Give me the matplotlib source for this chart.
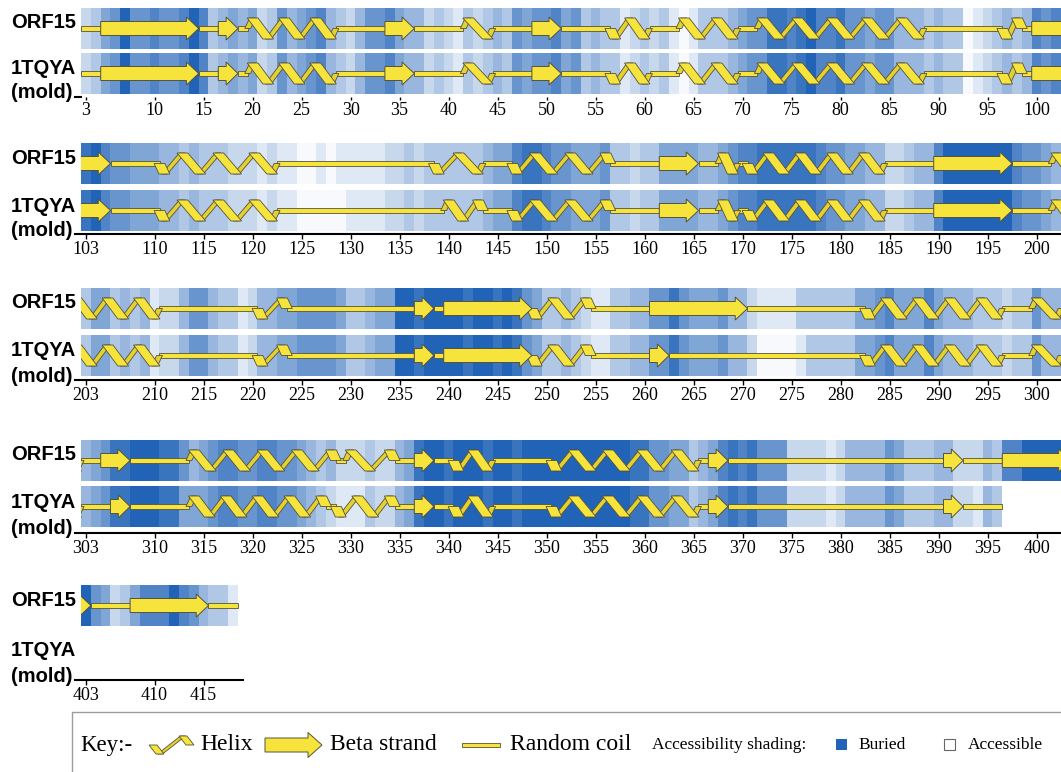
import matplotlib
matplotlib.use("Agg")
import matplotlib.pyplot as plt
from matplotlib.patches import Polygon, Rectangle
import numpy as np

# ------------------------------------------------------------------ data
row_starts = [3, 103, 203, 303, 403]
last_residue = 418
tick_values = [
    [3, 10, 15, 20, 25, 30, 35, 40, 45, 50, 55, 60, 65, 70, 75, 80, 85, 90, 95, 100],
    [103, 110, 115, 120, 125, 130, 135, 140, 145, 150, 155, 160, 165, 170, 175, 180, 185, 190, 195, 200],
    [203, 210, 215, 220, 225, 230, 235, 240, 245, 250, 255, 260, 265, 270, 275, 280, 285, 290, 295, 300],
    [303, 310, 315, 320, 325, 330, 335, 340, 345, 350, 355, 360, 365, 370, 375, 380, 385, 390, 395, 400],
    [403, 410, 415],
]
track_names = ["ORF15", "1TQYA", "(mold)"]

# secondary structure: (type, first residue, last residue); H helix, E strand, C coil
ss_orf15 = [
    ("C", 3, 4), ("E", 5, 14), ("C", 15, 16), ("E", 17, 18), ("C", 19, 19), ("H", 20, 28),
    ("C", 29, 33), ("E", 34, 36), ("C", 37, 41), ("H", 42, 44), ("C", 45, 48), ("E", 49, 51),
    ("C", 52, 56), ("H", 57, 60), ("C", 61, 63), ("H", 64, 69), ("C", 70, 71), ("H", 72, 88),
    ("C", 89, 96), ("H", 97, 98), ("C", 99, 99), ("E", 100, 105), ("C", 106, 110), ("H", 111, 122),
    ("C", 123, 138), ("H", 139, 143), ("C", 144, 146), ("H", 147, 156), ("C", 157, 161),
    ("E", 162, 165), ("C", 166, 167), ("H", 168, 169), ("C", 170, 170), ("H", 171, 184),
    ("C", 185, 189), ("E", 190, 197), ("C", 198, 201), ("H", 202, 210), ("C", 211, 220),
    ("H", 221, 223), ("C", 224, 236), ("E", 237, 238), ("C", 239, 239), ("E", 240, 248),
    ("H", 249, 254), ("C", 255, 260), ("E", 261, 270), ("C", 271, 282), ("H", 283, 296),
    ("C", 297, 299), ("H", 300, 302), ("C", 303, 304), ("E", 305, 307), ("C", 308, 313),
    ("H", 314, 328), ("C", 329, 329), ("H", 330, 334), ("C", 335, 336), ("E", 337, 338),
    ("C", 339, 340), ("H", 341, 344), ("C", 345, 350), ("H", 351, 365), ("C", 366, 366),
    ("E", 367, 368), ("C", 369, 390), ("E", 391, 392), ("C", 393, 396), ("E", 397, 403),
    ("C", 404, 407), ("E", 408, 415), ("C", 416, 418),
]
ss_1tqya = [
    ("C", 3, 4), ("E", 5, 14), ("C", 15, 16), ("E", 17, 18), ("C", 19, 19), ("H", 20, 28),
    ("C", 29, 33), ("E", 34, 36), ("C", 37, 41), ("H", 42, 44), ("C", 45, 48), ("E", 49, 51),
    ("C", 52, 56), ("H", 57, 60), ("C", 61, 63), ("H", 64, 69), ("C", 70, 71), ("H", 72, 88),
    ("C", 89, 96), ("H", 97, 98), ("C", 99, 99), ("E", 100, 105), ("C", 106, 110), ("H", 111, 122),
    ("C", 123, 139), ("H", 140, 143), ("C", 144, 146), ("H", 147, 156), ("C", 157, 161),
    ("E", 162, 165), ("C", 166, 167), ("H", 168, 169), ("C", 170, 170), ("H", 171, 184),
    ("C", 185, 189), ("E", 190, 197), ("C", 198, 201), ("H", 202, 210), ("C", 211, 220),
    ("H", 221, 223), ("C", 224, 236), ("E", 237, 238), ("C", 239, 239), ("E", 240, 248),
    ("H", 249, 254), ("C", 255, 260), ("E", 261, 262), ("C", 263, 282), ("H", 283, 296),
    ("C", 297, 299), ("H", 300, 302), ("C", 303, 305), ("E", 306, 307), ("C", 308, 313),
    ("H", 314, 327), ("C", 328, 328), ("H", 329, 334), ("C", 335, 336), ("E", 337, 338),
    ("C", 339, 340), ("H", 341, 344), ("C", 345, 350), ("H", 351, 365), ("C", 366, 366),
    ("E", 367, 368), ("C", 369, 390), ("E", 391, 392), ("C", 393, 396),
]
# helices whose ribbon starts with a downward stroke
helix_down_first = [57, 97, 111, 139, 147, 171, 221, 249, 283, 329, 341, 351]

# accessibility per residue (0 = accessible/white ... 9 = buried/dark blue), from residue 3
acc_orf15 = [
    "2356966766 7973454523 6456743246 6754423213 2343656675 6343312323 1013334566 8878977866 5664443433 0123434767",
    "8976655544 3433322212 1100101111 1223233333 3455788766 5556332335 5554456778 8888876655 4422344799 9999976654",
    "3553434122 4664331244 5566665334 5599899998 9989865334 3211334466 8655564421 1113333335 5675557544 4333233644",
    "4568899988 6456776677 6654342223 2245899899 9899899999 9999998866 5534578786 6622221244 4465333442 2243779999",
    "9652357779 764331",
]
acc_1tqya = [
    "2356966766 7973454523 6456743246 6754423213 2343656675 6343312323 1013334566 8878977866 5664443433 0123434767",
    "8976655544 3433322212 1100000111 1223233333 3455788766 5556332335 5554456778 8888876655 4422344799 9999976654",
    "3553434122 4664331244 5566665334 5599899998 9989865334 3211334466 8655564420 0001333335 5675557544 4333233644",
    "4568899988 5556776677 6654321113 2245899899 9899899999 9999998866 5534578786 6622221244 4465333442 2143",
]

# ------------------------------------------------------------------ style
W, H = 1061, 772
YELLOW = "#f6e43c"
YELLOW_BACK = "#e4d02e"
EDGE = "#55523a"
WHITE_RGB = np.array([247, 249, 253]) / 255
DARK_RGB = np.array([33, 99, 183]) / 255
TH = 41            # track height (px)
PX_PER_RES = 9.8
LEFT_PX = 81.1

# per row: ORF15 track top, 1TQYA track top (None if absent), axis line y (pixels from top)
row_geom = [(8, 53, 97), (143, 190, 234), (288, 335, 380), (440, 486, 533), (585, None, 680)]


def level_color(level):
    return tuple(WHITE_RGB + (DARK_RGB - WHITE_RGB) * level / 9.0)


def helix_strokes(x0, x1, yc, amp, down_first, inset, halfp, wf, wb):
    L = x1 - x0
    n = max(1, int(round((L - 2 * inset) / halfp)))
    h = (L - 2 * inset) / n
    sign = 1 if down_first else -1
    verts = [(x0, yc)]
    for k in range(n + 1):
        s = sign if k % 2 == 0 else -sign
        verts.append((x0 + inset + k * h, yc + s * amp))
    verts.append((x1, yc))
    back, front = [], []
    for (xa, ya), (xb, yb) in zip(verts[:-1], verts[1:]):
        down = yb > ya
        w = wf if down else wb
        poly = [(xa - w / 2, ya), (xa + w / 2, ya), (xb + w / 2, yb), (xb - w / 2, yb)]
        (front if down else back).append(poly)
    return back, front


def arrow_poly(x0, x1, yc, body, head, hl):
    hl = min(hl, 0.6 * (x1 - x0))
    return [(x0, yc - body), (x1 - hl, yc - body), (x1 - hl, yc - head), (x1, yc),
            (x1 - hl, yc + head), (x1 - hl, yc + body), (x0, yc + body)]


def draw_helix(ax, back, front, z=3):
    for p in back:
        ax.add_patch(Polygon(p, closed=True, facecolor=YELLOW_BACK, edgecolor=EDGE,
                             linewidth=0.6, zorder=z))
    for p in front:
        ax.add_patch(Polygon(p, closed=True, facecolor=YELLOW, edgecolor=EDGE,
                             linewidth=0.6, zorder=z + 0.5))


def draw_track(ax, yc, segs, acc_rows, first_res):
    digits = "".join(acc_rows).replace(" ", "")
    levels = np.array([int(c) for c in digits])
    res = np.arange(first_res, first_res + len(levels))
    ax.bar(res, TH, bottom=yc - TH / 2, width=1.02, color=[level_color(v) for v in levels],
           linewidth=0, zorder=1)
    for kind, a, b in segs:
        x0, x1 = a - 0.5, b + 0.5
        if kind == "C":
            ax.add_patch(Rectangle((x0, yc - 2.2), x1 - x0, 4.4, facecolor=YELLOW, edgecolor=EDGE,
                                   linewidth=0.6, zorder=2))
        elif kind == "E":
            ax.add_patch(Polygon(arrow_poly(x0, x1, yc, 7, 11.5, 1.25), closed=True,
                                 facecolor=YELLOW, edgecolor=EDGE, linewidth=0.7, zorder=4))
        else:
            back, front = helix_strokes(x0, x1, yc, 10.5, a in helix_down_first,
                                        0.5, 1.7, 1.1, 0.6)
            draw_helix(ax, back, front)


fig = plt.figure(figsize=(W / 100, H / 100), dpi=100)
ov = fig.add_axes([0, 0, 1, 1])
ov.set_xlim(0, W)
ov.set_ylim(H, 0)
ov.axis("off")

lab_kw = dict(fontsize=14.5, fontweight="bold", family="Liberation Sans", va="center", ha="left")

for i, start in enumerate(row_starts):
    orf_top, tq_top, axis_y = row_geom[i]
    top_px = orf_top - 1
    ax = fig.add_axes([LEFT_PX / W, 1 - axis_y / H, 100 * PX_PER_RES / W, (axis_y - top_px) / H])
    ax.set_xlim(start - 0.5, start + 99.5)
    ax.set_ylim(axis_y, top_px)
    ax.patch.set_alpha(0)
    for s in ("top", "left", "right"):
        ax.spines[s].set_visible(False)
    ax.set_yticks([])

    draw_track(ax, orf_top + TH / 2, ss_orf15, acc_orf15[i], start)
    if tq_top is not None:
        draw_track(ax, tq_top + TH / 2, ss_1tqya, acc_1tqya[i], start)

    row_end = min(start + 99, last_residue)
    ax.spines["bottom"].set_linewidth(1.5)
    if i == 0:
        ax.spines["bottom"].set_bounds(start - 1.15, start - 0.55)
        tlen = 2.3
    else:
        ax.spines["bottom"].set_bounds(start - 1.15, row_end + 1.0 if row_end == last_residue else start + 99.5)
        tlen = 3.6
    ax.set_xticks(tick_values[i])
    ax.set_xticklabels([str(t) for t in tick_values[i]], fontfamily="Liberation Serif", fontsize=13)
    ax.tick_params(axis="x", direction="out", length=tlen, width=1.0, pad=1.5)

    ov.text(11, orf_top + 15, track_names[0], **lab_kw)
    ov.text(11, (tq_top + 16) if tq_top is not None else 651, track_names[1], **lab_kw)
    ov.text(11, axis_y - 4, track_names[2], **lab_kw)

# ------------------------------------------------------------------ key
ov.add_patch(Rectangle((72, 712), 1010, 80, fill=False, edgecolor="#9c9c9c", linewidth=1.0))
leg_font = dict(family="Liberation Serif", va="center", ha="left")
ly = 745
ov.text(80, ly, "Key:-", fontsize=16.5, **leg_font)
back, front = helix_strokes(153, 190, ly, 9, True, 7, 30, 8, 5)
draw_helix(ov, back, front)
ov.text(200, ly, "Helix", fontsize=17, **leg_font)
ov.add_patch(Polygon(arrow_poly(265, 322, ly, 7, 12.5, 14), closed=True, facecolor=YELLOW,
                     edgecolor=EDGE, linewidth=0.7))
ov.text(330, ly, "Beta strand", fontsize=17, **leg_font)
ov.add_patch(Rectangle((462, ly - 2), 38, 4, facecolor=YELLOW, edgecolor=EDGE, linewidth=0.6))
ov.text(510, ly, "Random coil", fontsize=17, **leg_font)
ov.text(652, ly, "Accessibility shading:", fontsize=12.5, **leg_font)
ov.add_patch(Rectangle((836, ly - 6), 11, 11, facecolor=level_color(9), edgecolor="none"))
ov.text(858, ly, "Buried", fontsize=12.5, **leg_font)
ov.add_patch(Rectangle((944, ly - 6), 11, 11, facecolor="white", edgecolor="#666666", linewidth=0.8))
ov.text(968, ly, "Accessible", fontsize=12.5, **leg_font)

fig.savefig("out.png", dpi=100)
